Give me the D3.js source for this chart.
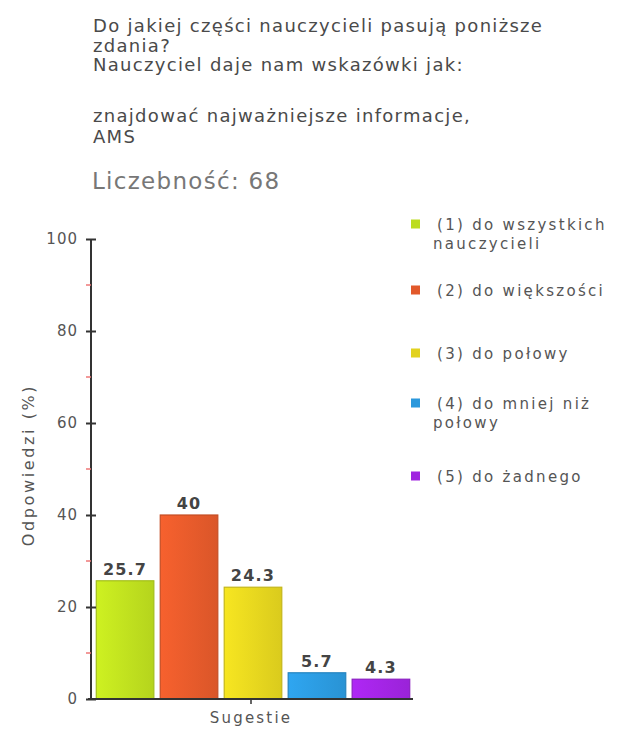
<!DOCTYPE html>
<html>
<head>
<meta charset="utf-8">
<script src="https://cdn.jsdelivr.net/npm/d3@7"></script>
<style>
  body { margin: 0; background: #fff; }
  text { font-family: "DejaVu Sans", Verdana, sans-serif; }
</style>
</head>
<body>
<script>
// Title lines of the question
const titleLines = [
    "Do jakiej części nauczycieli pasują poniższe",
    "zdania?",
    "Nauczyciel daje nam wskazówki jak:",
    "znajdować najważniejsze informacje,",
    "AMS"
];
const countLabel = "Liczebność: 68";

// Answer categories, values (%) and colours
const categories = ["(1) do wszystkich nauczycieli", "(2) do większości", "(3) do połowy", "(4) do mniej niż połowy", "(5) do żadnego"];
const legendLines = [["(1) do wszystkich", "nauczycieli"], ["(2) do większości"], ["(3) do połowy"], ["(4) do mniej niż", "połowy"], ["(5) do żadnego"]];
const values = [25.7, 40, 24.3, 5.7, 4.3];
const valueLabels = ["25.7", "40", "24.3", "5.7", "4.3"];
const colors = ["#bcdc1e", "#e2592a", "#e2d21e", "#2b98dc", "#a024e0"];
const yTicks = [0, 20, 40, 60, 80, 100];
const yMinorTicks = [10, 30, 50, 70, 90];
const xLabel = "Sugestie";
const yLabel = "Odpowiedzi (%)";

const W = 618, H = 735;
const svg = d3.select("body").append("svg")
    .attr("width", W)
    .attr("height", H);

// Title block
const titleBase = [32, 52, 71, 122, 143];
titleLines.forEach((t, i) => {
    svg.append("text")
        .attr("x", 93)
        .attr("y", titleBase[i])
        .attr("font-size", 18)
        .attr("letter-spacing", 1.3)
        .attr("fill", "#4a4a4a")
        .text(t);
});

svg.append("text")
    .attr("x", 92)
    .attr("y", 189)
    .attr("font-size", 23)
    .attr("letter-spacing", 1.3)
    .attr("fill", "#777")
    .text(countLabel);

// Scales
const x = d3.scaleBand()
    .domain(categories)
    .range([95, 411])
    .paddingInner(0.1)
    .paddingOuter(0.02);

const y = d3.scaleLinear()
    .domain([0, 100])
    .range([699, 239]);

const defs = svg.append("defs");
colors.forEach((c, i) => {
    const g = defs.append("linearGradient")
        .attr("id", "bar" + i)
        .attr("x1", "0%").attr("x2", "100%")
        .attr("y1", "0%").attr("y2", "0%");
    g.append("stop").attr("offset", "0%").attr("stop-color", d3.color(c).brighter(0.25));
    g.append("stop").attr("offset", "100%").attr("stop-color", d3.color(c).darker(0.1));
});

// Bars
svg.append("g")
    .selectAll("rect")
    .data(values)
    .join("rect")
    .attr("x", (d, i) => x(categories[i]))
    .attr("y", d => y(d))
    .attr("width", x.bandwidth())
    .attr("height", d => y(0) - y(d))
    .attr("fill", (d, i) => `url(#bar${i})`)
    .attr("stroke", (d, i) => d3.color(colors[i]).darker(0.4))
    .attr("stroke-width", 1.2);

// Value labels
svg.append("g")
    .selectAll("text")
    .data(values)
    .join("text")
    .attr("x", (d, i) => x(categories[i]) + x.bandwidth() / 2)
    .attr("y", d => y(d) - 6)
    .attr("text-anchor", "middle")
    .attr("font-size", 16)
    .attr("letter-spacing", 1.2)
    .attr("font-weight", 600)
    .attr("fill", "#444")
    .text((d, i) => valueLabels[i]);

// Y axis
const yAxis = svg.append("g")
    .attr("transform", "translate(91,0)")
    .call(d3.axisLeft(y).tickValues(yTicks).tickSize(5).tickPadding(8));
yAxis.select(".domain").attr("stroke", "#333").attr("stroke-width", 2).attr("d", `M0,${y(100)}V${y(0) + 1}`);
yAxis.selectAll(".tick line").attr("stroke", "#333").attr("stroke-width", 2).attr("x1", 5);
yAxis.selectAll(".tick text")
    .attr("font-size", 15)
    .attr("letter-spacing", 1)
    .attr("fill", "#555")
    .attr("font-family", "DejaVu Sans, Verdana, sans-serif");

svg.append("g")
    .selectAll("line")
    .data(yMinorTicks)
    .join("line")
    .attr("x1", 86)
    .attr("x2", 91)
    .attr("y1", d => y(d))
    .attr("y2", d => y(d))
    .attr("stroke", "#e77")
    .attr("stroke-width", 1.5);

// X axis
svg.append("line")
    .attr("x1", 88).attr("x2", 413)
    .attr("y1", y(0)).attr("y2", y(0))
    .attr("stroke", "#333")
    .attr("stroke-width", 2);
svg.append("line")
    .attr("x1", 251).attr("x2", 251)
    .attr("y1", y(0)).attr("y2", y(0) + 5)
    .attr("stroke", "#333")
    .attr("stroke-width", 1.5);

svg.append("text")
    .attr("x", 251)
    .attr("y", 723)
    .attr("text-anchor", "middle")
    .attr("font-size", 15)
    .attr("letter-spacing", 2.2)
    .attr("fill", "#555")
    .text(xLabel);

svg.append("text")
    .attr("transform", "translate(34,465) rotate(-90)")
    .attr("text-anchor", "middle")
    .attr("font-size", 16)
    .attr("letter-spacing", 2.6)
    .attr("fill", "#555")
    .text(yLabel);

// Legend
const legendY = [224, 290, 353, 403, 476];
const legend = svg.append("g")
    .selectAll("g")
    .data(categories)
    .join("g")
    .attr("transform", (d, i) => `translate(411,${legendY[i]})`);

legend.append("rect")
    .attr("x", 0)
    .attr("y", -4.5)
    .attr("width", 9)
    .attr("height", 9)
    .attr("fill", (d, i) => colors[i]);

legend.append("text")
    .attr("font-size", 15)
    .attr("letter-spacing", 2.3)
    .attr("fill", "#555")
    .selectAll("tspan")
    .data((d, i) => legendLines[i])
    .join("tspan")
    .attr("x", (d, j) => j === 0 ? 26 : 22)
    .attr("y", (d, j) => 6 + j * 19)
    .text(d => d);
</script>
</body>
</html>
